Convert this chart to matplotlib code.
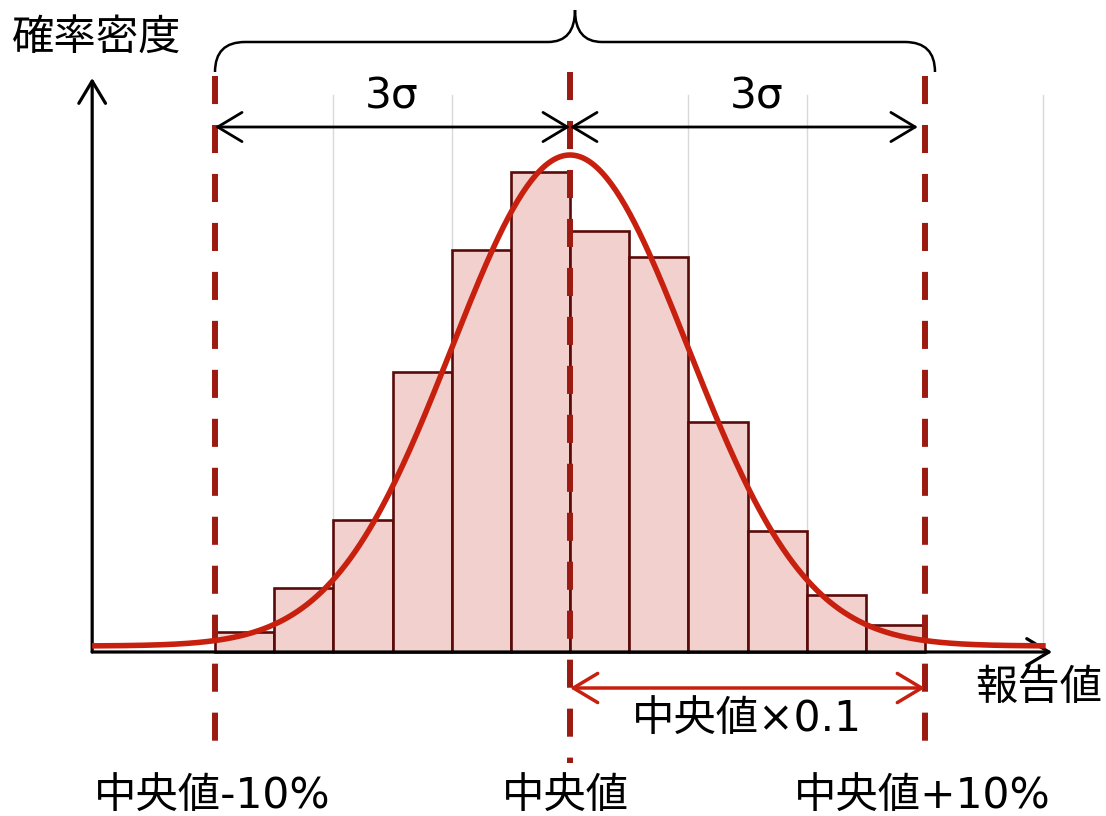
import numpy as np
import matplotlib
matplotlib.use('Agg')
import matplotlib.pyplot as plt
from matplotlib.path import Path
from matplotlib.patches import PathPatch

# x in percent of the median (-10% .. +10%), y in relative density
bin_edges = np.linspace(-10, 10, 13)
bar_heights = [2.0, 6.4, 13.2, 28.0, 40.2, 48.0, 42.1, 39.5, 23.0, 12.1, 5.7, 2.7]
sigma = 10 / 3
curve_peak = 49.1
curve_base = 0.6
grid_x = [-6.67, -3.33, 3.33, 6.67, 13.33]
ref_x = [-10, 0, 10]
ref_labels = ['中央値-10%', '中央値', '中央値+10%']

fonts = ['DejaVu Sans', 'Noto Sans CJK JP']
fs = 30.5
dark_red = '#9b1b12'
curve_red = '#c8200e'

fig = plt.figure(figsize=(11.06, 8.16), dpi=100)
ax = fig.add_axes([0, 0, 1, 1])
ax.set_xlim(-570 / 35.5, (1106 - 570) / 35.5)
ax.set_ylim(-16.4, 65.2)
ax.axis('off')

# grid
for gx in grid_x:
    ax.plot([gx, gx], [0, 55.7], color='#d9d9d9', lw=1, zorder=1)

# histogram
widths = np.diff(bin_edges)
ax.bar(bin_edges[:-1], bar_heights, width=widths, align='edge',
       color='#f2d0ce', edgecolor='#5a0a08', linewidth=1.9, zorder=2)

# axes arrows
ax_kw = dict(arrowstyle='->,head_length=0.5,head_width=0.3',
             mutation_scale=32, lw=2.3, color='black', shrinkA=0, shrinkB=0)
ax.annotate('', xy=(-13.46, 57.4), xytext=(-13.46, 0), arrowprops=ax_kw, zorder=3)
ax.annotate('', xy=(13.58, 0), xytext=(-13.46, 0), arrowprops=ax_kw, zorder=3)

# dashed reference lines
ls = (0, (4.7, 3.5))
ax.plot([-10, -10], [57.6, -9.3], color=dark_red, lw=4.3, linestyle=ls, zorder=4)
ax.plot([10, 10], [57.6, -9.3], color=dark_red, lw=4.3, linestyle=ls, zorder=4)
ax.plot([0, 0], [58.0, -11.1], color=dark_red, lw=4.3, linestyle=ls, zorder=4)

# normal curve
xs = np.linspace(-13.46, 13.4, 400)
ys = curve_base + curve_peak * np.exp(-xs ** 2 / (2 * sigma ** 2))
ax.plot(xs, ys, color=curve_red, lw=4.0, zorder=5, solid_capstyle='butt')

# 3 sigma arrows
arrow_kw = dict(arrowstyle='<->,head_length=0.5,head_width=0.3',
                mutation_scale=35, lw=2, color='black', shrinkA=0, shrinkB=0)
ax.annotate('', xy=(-10, 52.5), xytext=(0, 52.5), arrowprops=arrow_kw, zorder=6)
ax.annotate('', xy=(0, 52.5), xytext=(9.8, 52.5), arrowprops=arrow_kw, zorder=6)
ax.text(-5.01, 55.5, '3σ', fontsize=fs, family=fonts, ha='center', va='center')
ax.text(5.27, 55.5, '3σ', fontsize=fs, family=fonts, ha='center', va='center')

# median x 0.1 arrow
red_kw = dict(arrow_kw, color=curve_red, lw=2.5)
ax.annotate('', xy=(0, -3.6), xytext=(10, -3.6), arrowprops=red_kw, zorder=6)
ax.text(4.99, -6.8, '中央値×0.1', fontsize=fs, family=fonts, ha='center', va='center')

# brace over the +-3 sigma span
def p(px, py):
    return ((px - 570) / 35.5, (652 - py) / 10)

verts = [p(215, 72), p(215, 42), p(245, 42),
         p(548, 42),
         p(575, 42), p(575, 10),
         p(575, 42), p(602, 42),
         p(905, 42),
         p(935, 42), p(935, 72)]
codes = [Path.MOVETO, Path.CURVE3, Path.CURVE3,
         Path.LINETO,
         Path.CURVE3, Path.CURVE3,
         Path.CURVE3, Path.CURVE3,
         Path.LINETO,
         Path.CURVE3, Path.CURVE3]
ax.add_patch(PathPatch(Path(verts, codes), fill=False, lw=1.8, color='black', zorder=6))

# axis labels
ax.text(-13.32, 61.4, '確率密度', fontsize=fs, family=fonts, ha='center', va='center')
ax.text(13.2, -3.6, '報告値', fontsize=fs, family=fonts, ha='center', va='center')

# bottom labels
label_offsets = [-0.08, -0.14, -0.08]
for rx, lab, off in zip(ref_x, ref_labels, label_offsets):
    ax.text(rx + off, -14.5, lab, fontsize=fs, family=fonts, ha='center', va='center')

fig.savefig('out.png', dpi=100)
